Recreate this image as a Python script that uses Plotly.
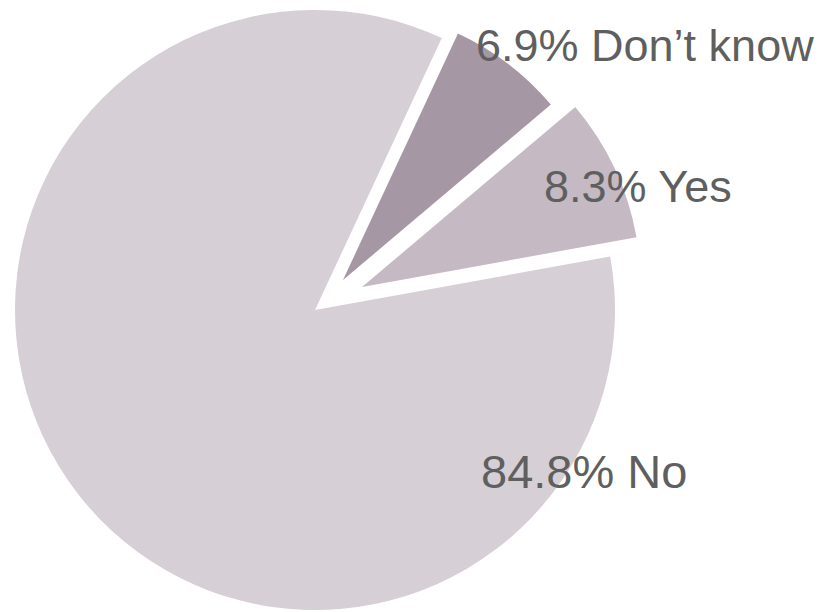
import plotly.graph_objects as go

labels = ["Don\u2019t know", "Yes", "No"]
values = [6.9, 8.3, 84.8]
colors = ["#a697a4", "#c5b9c3", "#d7cfd6"]

W, H = 838, 612

# every slice gets its own pie so the exploded wedges keep the full radius
# centre x, centre y, radius in px
slice_px = {
    "No": (307, 302, 300),
    "Don\u2019t know": (335, 272, 272),
    "Yes": (354, 279, 279),
}
# left edge, vertical middle and font size of each label
label_px = {
    "Don\u2019t know": (466, 37, 45),
    "Yes": (534, 178, 45),
    "No": (471, 463, 47),
}


def domain(cx, cy, r):
    return dict(
        x=[max(0, (cx - r) / W), min(1, (cx + r) / W)],
        y=[max(0, 1 - (cy + r) / H), min(1, 1 - (cy - r) / H)],
    )


fig = go.Figure()
for name in ["No", "Don\u2019t know", "Yes"]:
    fills = [c if lab == name else "rgba(0,0,0,0)" for lab, c in zip(labels, colors)]
    fig.add_trace(
        go.Pie(
            labels=labels, values=values,
            sort=False, direction="clockwise", rotation=25,
            marker=dict(colors=fills, line=dict(width=0)),
            textinfo="none",
            domain=domain(*slice_px[name]),
            showlegend=False,
            hoverinfo="skip",
        )
    )

for lab, v in zip(labels, values):
    x, y, size = label_px[lab]
    fig.add_annotation(
        x=x / W, y=1 - y / H, xref="paper", yref="paper",
        xanchor="left", yanchor="middle",
        text=f"{v}% {lab}", showarrow=False,
        font=dict(family="Liberation Sans, Arial", size=size, color="#5f5f5f"),
    )

fig.update_layout(
    width=W, height=H,
    margin=dict(l=0, r=0, t=0, b=0),
    paper_bgcolor="white",
    plot_bgcolor="white",
)
fig.write_html("out.html")
